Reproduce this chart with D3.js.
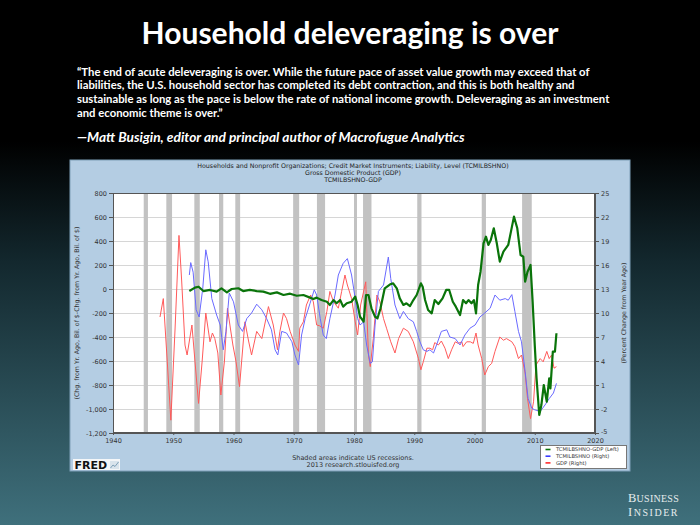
<!DOCTYPE html>
<html><head><meta charset="utf-8">
<script src="https://cdn.jsdelivr.net/npm/d3@7"></script>
<style>body{margin:0;padding:0;background:#000;}svg{display:block;}</style>
</head><body>
<script>
// ---------- DATA ----------
const titleText = "Household deleveraging is over";
const quoteLines = [
  "\u201CThe end of acute deleveraging is over. While the future pace of asset value growth may exceed that of",
  "liabilities, the U.S. household sector has completed its debt contraction, and this is both healthy and",
  "sustainable as long as the pace is below the rate of national income growth. Deleveraging as an investment",
  "and economic theme is over.\u201D"
];
const attribution = "\u2014Matt Busigin, editor and principal author of Macrofugue Analytics";
const headerLines = [
  "Households and Nonprofit Organizations; Credit Market Instruments; Liability, Level (TCMILBSHNO)",
  "Gross Domestic Product (GDP)",
  "TCMILBSHNO-GDP"
];
const leftTicks = [-1200,-1000,-800,-600,-400,-200,0,200,400,600,800];
const leftTickLabels = ["-1,200","-1,000","-800","-600","-400","-200","0","200","400","600","800"];
const rightTicks = [-5,-2,1,4,7,10,13,16,19,22,25];
const rightTickLabels = ["-5","-2","1","4","7","10","13","16","19","22","25"];
const xTicks = [1940,1950,1960,1970,1980,1990,2000,2010,2020];
const leftAxisTitle = "(Chg. from Yr. Ago, Bil. of $-Chg. from Yr. Ago, Bil. of $)";
const rightAxisTitle = "(Percent Change from Year Ago)";
const legendLabels = ["TCMILBSHNO-GDP (Left)","TCMILBSHNO (Right)","GDP (Right)"];
const recessionStart = [1945.1,1948.85,1953.5,1957.6,1960.3,1969.9,1973.85,1980.0,1981.5,1990.5,2001.2,2007.9];
const recessionEnd   = [1945.8,1949.8,1954.4,1958.3,1961.1,1970.9,1975.2,1980.5,1982.9,1991.2,2001.9,2009.5];

// green: TCMILBSHNO-GDP, billions (left axis)
const greenYears = [1952.67,1953.6,1954.2,1955.0,1956.1,1957.2,1958.0,1958.9,1959.7,1960.8,1961.6,1962.7,1963.85,1964.95,1966.05,1967.2,1968.3,1969.4,1970.5,1971.6,1972.7,1973.25,1973.8,1974.6,1975.5,1976.0,1976.6,1977.1,1977.7,1978.2,1978.8,1979.6,1980.2,1980.6,1981.0,1981.6,1982.0,1982.4,1982.9,1983.5,1983.9,1984.4,1985.1,1986.0,1986.5,1987.1,1987.6,1988.2,1988.7,1989.3,1989.85,1990.4,1991.1,1991.4,1991.8,1992.3,1992.9,1993.4,1994.0,1994.7,1995.3,1995.8,1996.4,1996.9,1997.6,1998.1,1998.6,1999.0,1999.5,1999.9,2000.25,2000.6,2001.0,2001.5,2001.9,2002.3,2002.7,2003.2,2003.7,2004.2,2004.8,2005.6,2006.05,2006.55,2007.1,2007.65,2008.1,2008.4,2008.8,2009.05,2009.3,2009.65,2010.0,2010.3,2010.75,2011.1,2011.5,2012.0,2012.4,2012.6,2013.0,2013.35,2013.6];
const greenVals  = [-17,11,19,-17,-8,-22,6,-28,0,6,-17,-8,-17,-22,-40,-28,-50,-39,-56,-50,-72,-83,-72,-92,-106,-133,-92,-119,-92,-147,-119,-106,-64,-133,-231,-272,-50,-50,-161,-231,-244,-161,6,39,47,6,-78,-133,-119,-142,-92,-50,47,19,-92,-175,-203,-92,-125,-78,-8,-8,-106,-147,-217,-92,-119,-92,-119,-92,-203,33,144,381,436,367,408,506,381,228,311,367,478,603,506,283,269,61,144,172,200,-106,-467,-744,-1050,-967,-800,-939,-744,-828,-522,-522,-369];

// blue: TCMILBSHNO, % change from year ago (right axis)
const blueYears = [1952.67,1952.9,1953.3,1953.8,1954.3,1954.9,1955.4,1955.8,1956.4,1957.2,1957.8,1958.3,1958.75,1959.3,1960.0,1960.8,1961.5,1962.2,1963.0,1963.85,1964.7,1965.5,1966.3,1966.9,1967.35,1968.0,1968.8,1969.7,1970.2,1970.8,1971.3,1971.9,1972.7,1973.4,1973.8,1974.4,1974.9,1975.4,1976.0,1976.85,1977.4,1978.2,1978.9,1979.6,1980.2,1980.6,1981.0,1981.6,1982.1,1982.7,1983.05,1983.5,1984.05,1984.9,1985.7,1986.1,1986.8,1987.6,1988.2,1989.0,1989.85,1990.4,1990.95,1991.5,1992.1,1992.6,1993.2,1993.7,1994.5,1995.4,1995.9,1996.8,1997.6,1998.4,1999.25,2000.1,2000.9,2001.7,2002.6,2003.4,2004.2,2005.1,2005.6,2006.2,2006.7,2007.3,2007.8,2008.4,2008.9,2009.5,2010.0,2010.9,2011.7,2012.4,2013.1,2013.6];
const blueVals  = [14.75,16.3,15.1,10.4,9.5,13.1,17.9,16.4,11.8,9.75,8.5,5.4,7.7,12.5,11.4,8.5,7.7,9.3,10,11.1,10.4,9.3,7.9,5.4,4.75,7.7,7.5,6.4,4.75,3.5,7.25,9.3,11.2,12.9,12.25,9.3,7.25,6.8,9.3,12.25,14.75,16.2,16.8,14.75,11.8,9.3,8.5,8.9,6,3.7,3.9,8.5,12.7,13.5,17,14.3,11,9.3,10.2,9.3,8.9,7.7,6.4,5.4,5.2,5.4,5,6,7.7,7.9,7,6.8,6,7.25,8.1,8.5,9.5,10,10.6,12.25,11.6,11.8,11.6,12.3,10.2,7.7,6.4,2.7,-0.7,-1.9,-2.1,-2.3,-1.5,-0.7,0,1.2];

// red: GDP, % change from year ago (right axis)
const redYears = [1947.8,1948.35,1949.0,1949.6,1950.3,1950.95,1951.4,1951.95,1952.3,1953.1,1953.6,1954.2,1954.8,1955.4,1956.1,1956.5,1956.9,1957.4,1957.9,1958.5,1959.0,1959.5,1959.9,1960.4,1961.0,1961.9,1962.5,1963.0,1963.85,1964.7,1965.8,1966.6,1967.3,1967.7,1968.3,1968.8,1969.4,1970.2,1970.8,1971.0,1971.6,1972.1,1972.8,1973.25,1973.8,1974.3,1974.9,1975.5,1976.0,1976.6,1977.4,1977.95,1978.5,1978.9,1979.6,1980.2,1980.6,1981.1,1981.95,1982.4,1982.7,1983.2,1983.8,1984.3,1984.9,1985.4,1986.1,1986.8,1987.4,1988.2,1989.0,1989.85,1990.7,1991.1,1991.5,1992.1,1992.6,1993.05,1993.4,1994.0,1994.5,1995.1,1995.65,1996.2,1996.8,1997.3,1997.9,1998.1,1998.7,1999.3,1999.8,2000.25,2000.6,2001.2,2001.7,2002.3,2002.85,2003.4,2004.2,2004.8,2005.3,2006.2,2006.7,2007.3,2007.8,2008.4,2008.8,2009.3,2009.8,2010.2,2010.9,2011.4,2012.0,2012.4,2012.8,2013.2,2013.6];
const redVals  = [9.5,11.8,4.0,-3.4,8,19.7,14,6.0,4.75,8.5,4,-1.3,4,10,6.4,7.5,6.8,5,-0.25,4,10.6,8,6.0,4,0.8,8.9,6.5,4.75,7.7,6.8,10.8,8.5,5.4,7.7,10,9.3,7.7,6,5.2,8.1,8.9,11,12.25,11.4,8.5,8.4,8.1,10.2,12.7,11.4,10.6,12.7,14.75,13.5,11.8,8.9,7.25,11,13.9,4.75,3.3,6.8,12.25,11.4,9.3,8.1,6.4,5,6.8,8.1,7.7,6.4,4.3,2.9,3.9,5.6,5.6,5.4,6.3,6,6.5,5.6,4.3,5.4,6.4,6.2,6.4,5.8,6.4,6.4,6.2,7.5,6,4.3,2.25,3.3,3.7,5.2,7.0,6.6,6.8,6.4,5.8,4.3,4.75,2.5,-0.7,-3.2,-1.1,3.5,4.3,3.9,5.2,4.3,4.75,3.1,3.3];

// ---------- DRAW ----------
const W = 700, H = 525;
const svg = d3.select("body").append("svg").attr("width", W).attr("height", H);
const defs = svg.append("defs");
const bg = defs.append("linearGradient").attr("id","bg").attr("x1",0).attr("y1",0).attr("x2",0).attr("y2",1);
bg.append("stop").attr("offset","0").attr("stop-color","#000");
bg.append("stop").attr("offset","0.27").attr("stop-color","#000");
bg.append("stop").attr("offset","0.5").attr("stop-color","#13282e");
bg.append("stop").attr("offset","1").attr("stop-color","#3f707c");
svg.append("rect").attr("width",W).attr("height",H).attr("fill","url(#bg)");

function fit(sel, target) {
  const w = sel.node().getComputedTextLength();
  const fs = parseFloat(sel.attr("font-size"));
  return fs * target / w;
}

// Title
const title = svg.append("text").attr("x",350).attr("y",44).attr("text-anchor","middle")
  .attr("fill","#fff").attr("font-family","Lato, 'Open Sans', sans-serif").attr("font-weight",700)
  .attr("font-size",30).text(titleText);
title.attr("font-size", fit(title, 417));

// Quote
const qFont = "Lato, 'Open Sans', sans-serif";
const q0 = svg.append("text").attr("x",77).attr("y",76).attr("fill","#fff")
  .attr("font-family",qFont).attr("font-weight",700).attr("font-size",12).text(quoteLines[0]);
const qfs = fit(q0, 513);
q0.remove();
quoteLines.forEach((l,i)=>{
  svg.append("text").attr("x",77).attr("y",75.5+i*13.7).attr("fill","#fff")
    .attr("font-family",qFont).attr("font-weight",700).attr("font-size",qfs).text(l);
});
const att = svg.append("text").attr("x",77).attr("y",141.5).attr("fill","#fff")
  .attr("font-family",qFont).attr("font-weight",700).attr("font-style","italic")
  .attr("font-size",14).text(attribution);
att.attr("font-size", fit(att, 388));

// Panel
svg.append("rect").attr("x",70).attr("y",160).attr("width",560).attr("height",311)
  .attr("fill","#b4cde3").attr("stroke","#7f9fb8").attr("stroke-width",1);

const cf = "'DejaVu Sans', Verdana, sans-serif";
headerLines.forEach((l,i)=>{
  svg.append("text").attr("x",353).attr("y",168+i*6.8).attr("text-anchor","middle")
    .attr("font-family",cf).attr("font-size",6.3).attr("fill","#222").text(l);
});

const x = d3.scaleLinear().domain([1940,2020]).range([113,595]);
const yL = d3.scaleLinear().domain([-1200,800]).range([433,193]);
const yR = d3.scaleLinear().domain([-5,25]).range([433,193]);

svg.append("rect").attr("x",113).attr("y",193).attr("width",482).attr("height",240).attr("fill","#fff");

// gridlines
svg.append("g").selectAll("line").data(leftTicks).join("line")
  .attr("x1",113).attr("x2",595).attr("y1",d=>Math.round(yL(d))+0.5).attr("y2",d=>Math.round(yL(d))+0.5)
  .attr("stroke","#d6d6d6").attr("stroke-width",1);

// recessions
svg.append("g").selectAll("rect").data(recessionStart).join("rect")
  .attr("x",(d)=>x(d)).attr("width",(d,i)=>Math.max(2.5,x(recessionEnd[i])-x(d)))
  .attr("y",193).attr("height",240).attr("fill","#c2c2c2");

// lines
const lineL = d3.line().x(d=>x(d[0])).y(d=>yL(d[1]));
const lineR = d3.line().x(d=>x(d[0])).y(d=>yR(d[1]));
const clip = defs.append("clipPath").attr("id","clip");
clip.append("rect").attr("x",113).attr("y",193).attr("width",482).attr("height",240);
const pl = svg.append("g").attr("clip-path","url(#clip)");
pl.append("path").datum(redYears.map((d,i)=>[d,redVals[i]])).attr("d",lineR)
  .attr("fill","none").attr("stroke","#ff5a5a").attr("stroke-width",1).attr("stroke-linejoin","round");
pl.append("path").datum(blueYears.map((d,i)=>[d,blueVals[i]])).attr("d",lineR)
  .attr("fill","none").attr("stroke","#6a6aff").attr("stroke-width",1).attr("stroke-linejoin","round");
pl.append("path").datum(greenYears.map((d,i)=>[d,greenVals[i]])).attr("d",lineL)
  .attr("fill","none").attr("stroke","#0a740a").attr("stroke-width",2.2).attr("stroke-linejoin","round");

// frame
svg.append("rect").attr("x",113.5).attr("y",193.5).attr("width",481).attr("height",239)
  .attr("fill","none").attr("stroke","#555").attr("stroke-width",1);

// axes
const axL = d3.axisLeft(yL).tickValues(leftTicks).tickFormat((d,i)=>leftTickLabels[i]).tickSize(4).tickPadding(2);
const gL = svg.append("g").attr("transform","translate(113,0)").call(axL);
const axR = d3.axisRight(yR).tickValues(rightTicks).tickFormat((d,i)=>rightTickLabels[i]).tickSize(4).tickPadding(2);
const gR = svg.append("g").attr("transform","translate(595,0)").call(axR);
const axB = d3.axisBottom(x).tickValues(xTicks).tickFormat(d=>String(d)).tickSize(2).tickPadding(3);
const gB = svg.append("g").attr("transform","translate(0,433)").call(axB);
[gL,gR,gB].forEach(g=>{
  g.select(".domain").attr("stroke","#555");
  g.selectAll(".tick line").attr("stroke","#555");
  g.selectAll("text").attr("font-family",cf).attr("font-size",6.5).attr("fill","#333");
});
gR.selectAll(".tick text").filter(d=>d===-5).attr("dy","0.1em");

svg.append("text").attr("transform","translate(79,313) rotate(-90)").attr("text-anchor","middle")
  .attr("font-family",cf).attr("font-size",6.3).attr("fill","#333").text(leftAxisTitle);
svg.append("text").attr("transform","translate(626,313) rotate(-90)").attr("text-anchor","middle")
  .attr("font-family",cf).attr("font-size",6.3).attr("fill","#333").text(rightAxisTitle);

// footer
svg.append("text").attr("x",353).attr("y",459.5).attr("text-anchor","middle")
  .attr("font-family",cf).attr("font-size",6.5).attr("fill","#333").text("Shaded areas indicate US recessions.");
svg.append("text").attr("x",353).attr("y",466.8).attr("text-anchor","middle")
  .attr("font-family",cf).attr("font-size",6.5).attr("fill","#333").text("2013 research.stlouisfed.org");

// legend
const lg = svg.append("g");
lg.append("rect").attr("x",540.5).attr("y",445.5).attr("width",86).attr("height",23).attr("fill","#fff").attr("stroke","#777");
const lcol = ["#0a740a","#3a3aff","#ff2a2a"];
legendLabels.forEach((l,i)=>{
  lg.append("line").attr("x1",545.5).attr("x2",550.5).attr("y1",449.5+i*6.7).attr("y2",449.5+i*6.7)
    .attr("stroke",lcol[i]).attr("stroke-width",1.6);
  lg.append("text").attr("x",556).attr("y",451.3+i*6.7).attr("font-family",cf).attr("font-size",5.2)
    .attr("fill","#333").text(l);
});

// FRED logo
svg.append("rect").attr("x",73).attr("y",459).attr("width",47).attr("height",11).attr("fill","#f4f6f8");
svg.append("text").attr("x",74.5).attr("y",468.8).attr("font-family","'DejaVu Sans', sans-serif")
  .attr("font-weight",700).attr("font-size",11).attr("fill","#111").text("FRED");
const ic = svg.append("g");
ic.append("rect").attr("x",110).attr("y",461).attr("width",9).attr("height",8).attr("fill","#d9e4ec");
ic.append("polyline").attr("points","110.5,468 113,465 115,466.5 118.5,462").attr("fill","none").attr("stroke","#7fa0b8").attr("stroke-width",1);

// Business Insider logo
const bi = [["B","USINESS",502],["I","NSIDER",516]];
bi.forEach(r=>{
  const t = svg.append("text").attr("x",628).attr("y",r[2]).attr("font-family","'Liberation Serif', 'DejaVu Serif', serif")
    .attr("fill","#e6ecee").attr("letter-spacing",0.5);
  t.append("tspan").attr("font-size",12.5).text(r[0]);
  t.append("tspan").attr("font-size",10).text(r[1]);
  const w = t.node().getComputedTextLength();
  t.attr("letter-spacing", 0.5 + (51 - w) / (r[0].length + r[1].length));
});
</script>
</body></html>
